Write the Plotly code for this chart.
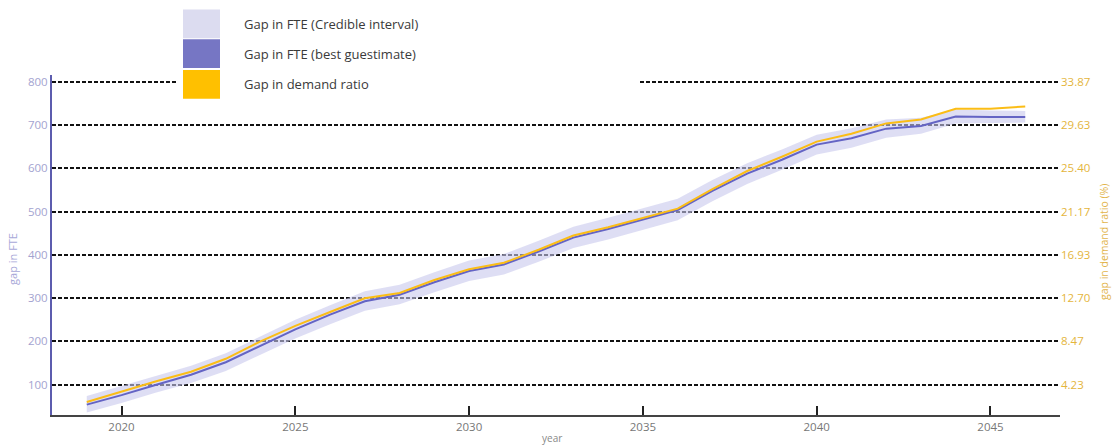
import plotly.graph_objects as go

# ---- data -------------------------------------------------------------
years = list(range(2019, 2047))

gap_fte_best = [54, 76, 100, 123, 152, 190, 228, 262, 293, 308, 337, 363, 378, 408,
                440, 460, 482, 504, 548, 588, 620, 655, 670, 692, 698, 720, 719, 719]

gap_fte_low = [36, 58, 82, 104, 132, 169, 207, 240, 271, 286, 314, 340, 355, 384,
               416, 436, 458, 480, 524, 564, 597, 632, 648, 671, 680, 704, 705, 706]

gap_fte_high = [74, 97, 121, 144, 173, 211, 250, 284, 316, 331, 360, 387, 402, 433,
                465, 486, 508, 530, 573, 612, 644, 678, 693, 713, 717, 736, 734, 733]

gap_ratio_pct = [2.54, 3.56, 4.57, 5.50, 6.77, 8.47, 9.99, 11.35, 12.70, 13.21, 14.48,
                 15.54, 16.17, 17.44, 18.84, 19.65, 20.58, 21.47, 23.37, 25.15, 26.55,
                 28.03, 28.79, 29.81, 30.19, 31.25, 31.25, 31.46]

fte_ticks = [100, 200, 300, 400, 500, 600, 700, 800]
ratio_tick_labels = ["4.23", "8.47", "12.70", "16.93", "21.17", "25.40", "29.63", "33.87"]
year_ticks = [2020, 2025, 2030, 2035, 2040, 2045]

legend_labels = ["Gap in FTE (Credible interval)",
                 "Gap in FTE (best guestimate)",
                 "Gap in demand ratio"]

# ---- styling ----------------------------------------------------------
C_BAND = "rgba(200,200,236,0.6)"
C_BAND_KEY = "#dcdcf0"
C_BEST = "#6464c4"
C_BEST_KEY = "#7676c4"
C_RATIO = "#fbbd16"
C_RATIO_KEY = "#ffc000"
FONT = "Open Sans"

W, H = 1113, 446
PL, PR, PT, PB = 52, 1060, 75, 417
Y_RANGE = [30, 816]
RATIO_PER_FTE = float(ratio_tick_labels[-1]) / fte_ticks[-1]


def px(x):
    return (x - PL) / (PR - PL)


def py(y):
    return (PB - y) / (PB - PT)


fig = go.Figure()

# credible interval band
fig.add_trace(go.Scatter(x=years, y=gap_fte_low, mode="lines",
                         line=dict(width=0, color=C_BAND), hoverinfo="skip",
                         showlegend=False))
fig.add_trace(go.Scatter(x=years, y=gap_fte_high, mode="lines",
                         line=dict(width=0, color=C_BAND), fill="tonexty",
                         fillcolor=C_BAND, showlegend=False,
                         name=legend_labels[0]))
# best estimate
fig.add_trace(go.Scatter(x=years, y=gap_fte_best, mode="lines",
                         line=dict(width=2, color=C_BEST), showlegend=False,
                         name=legend_labels[1]))
# demand ratio on the secondary axis
fig.add_trace(go.Scatter(x=years, y=gap_ratio_pct, mode="lines", yaxis="y2",
                         line=dict(width=2, color=C_RATIO), showlegend=False,
                         name=legend_labels[2]))

# legend drawn as a white panel with colour keys
shapes = [dict(type="rect", xref="paper", yref="paper", layer="above",
               x0=px(176), x1=px(640), y0=py(102), y1=py(0),
               fillcolor="white", line=dict(width=0))]
annotations = []
key_colors = [C_BAND_KEY, C_BEST_KEY, C_RATIO_KEY]
key_tops = [9, 39, 70]
for label, col, top in zip(legend_labels, key_colors, key_tops):
    shapes.append(dict(type="rect", xref="paper", yref="paper", layer="above",
                       x0=px(183), x1=px(220), y0=py(top + 29), y1=py(top),
                       fillcolor=col, line=dict(width=0)))
    annotations.append(dict(xref="paper", yref="paper", x=px(242), y=py(top + 14.5),
                            text=label, showarrow=False, xanchor="left",
                            yanchor="middle",
                            font=dict(family=FONT, size=13, color="#3a3a3a")))

# axis titles
annotations.append(dict(xref="paper", yref="paper", x=px(13), y=py(260),
                        text="gap in FTE", textangle=-90, showarrow=False,
                        xanchor="center", yanchor="middle",
                        font=dict(family=FONT, size=11, color="#a8a8d8")))
annotations.append(dict(xref="paper", yref="paper", x=px(1104), y=py(243),
                        text="gap in demand ratio (%)", textangle=-90,
                        showarrow=False, xanchor="center", yanchor="middle",
                        font=dict(family=FONT, size=10.5, color="#e2b44a")))
annotations.append(dict(xref="paper", yref="paper", x=px(552), y=py(440),
                        text="year", showarrow=False, xanchor="center",
                        yanchor="middle",
                        font=dict(family=FONT, size=10, color="#888888")))

fig.update_layout(
    width=W, height=H,
    margin=dict(l=PL, r=W - PR, t=PT, b=H - PB, pad=0),
    paper_bgcolor="white", plot_bgcolor="white",
    showlegend=False,
    font=dict(family=FONT),
    shapes=shapes, annotations=annotations,
    xaxis=dict(range=[2018, 2047], tickvals=year_ticks, ticks="inside",
               ticklen=9, tickwidth=2, tickcolor="#222222",
               showline=True, linecolor="#444444", linewidth=2,
               showgrid=False, zeroline=False,
               tickfont=dict(family=FONT, size=11.5, color="#777777")),
    yaxis=dict(range=Y_RANGE, tickvals=fte_ticks, ticks="",
               showline=True, linecolor="#5c5cae", linewidth=2,
               showgrid=True, gridcolor="#111111", gridwidth=1.6,
               griddash="4px,2px", zeroline=False,
               tickfont=dict(family=FONT, size=11.5, color="#a3a3d0")),
    yaxis2=dict(overlaying="y", side="right",
                range=[Y_RANGE[0] * RATIO_PER_FTE, Y_RANGE[1] * RATIO_PER_FTE],
                tickvals=[float(t) for t in ratio_tick_labels],
                ticktext=ratio_tick_labels, ticks="",
                showline=False, showgrid=False, zeroline=False,
                tickfont=dict(family=FONT, size=11.5, color="#e4b53c")),
)

fig.write_html("out.html", config={"displayModeBar": False})
